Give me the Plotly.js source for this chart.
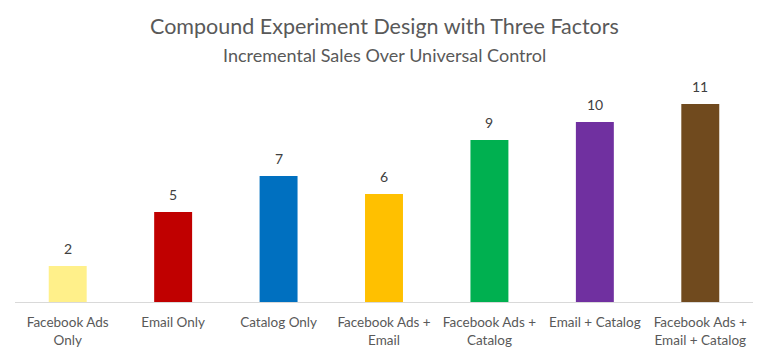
<!DOCTYPE html>
<html>
<head>
<meta charset="utf-8">
<script src="https://cdn.plot.ly/plotly-3.0.1.min.js"></script>
<style>html,body{margin:0;padding:0;background:#fff;}#chart{width:771px;height:358px;}</style>
</head>
<body>
<div id="chart"></div>
<script>
const categories = ["Facebook Ads<br>Only", "Email Only", "Catalog Only", "Facebook Ads +<br>Email", "Facebook Ads +<br>Catalog", "Email + Catalog", "Facebook Ads +<br>Email + Catalog"];
const values = [2, 5, 7, 6, 9, 10, 11];
const barColors = ["#FFF08A", "#C00000", "#0070C0", "#FFC000", "#00B050", "#7030A0", "#704A1E"];
const titleText = "Compound Experiment Design with Three Factors";
const subtitleText = "Incremental Sales Over Universal Control";

const FONT = "Lato, 'Open Sans', sans-serif";

const trace = {
  type: "bar",
  x: categories,
  y: values,
  marker: {color: barColors},
  width: 0.36,
  hoverinfo: "none"
};

const annotations = categories.map((c, i) => ({
  x: c, y: values[i], xref: "x", yref: "y",
  text: String(values[i]), showarrow: false,
  yanchor: "bottom", yshift: 7,
  font: {family: FONT, size: 14, color: "#404040"}
}));
annotations.push({
  xref: "paper", yref: "paper", x: 0.5, y: 1, xanchor: "center", yanchor: "middle",
  text: titleText, showarrow: false, yshift: 60,
  font: {family: FONT, size: 21.5, color: "#595959"}
});
annotations.push({
  xref: "paper", yref: "paper", x: 0.5, y: 1, xanchor: "center", yanchor: "middle",
  text: subtitleText, showarrow: false, yshift: 31,
  font: {family: FONT, size: 18, color: "#595959"}
});

const layout = {
  width: 771, height: 358,
  margin: {l: 15, r: 18, t: 86, b: 56},
  paper_bgcolor: "#fff", plot_bgcolor: "#fff",
  showlegend: false,
  xaxis: {
    showline: true, linecolor: "#D9D9D9", linewidth: 1,
    ticks: "", ticklabelstandoff: 8,
    tickfont: {family: FONT, size: 13.5, color: "#595959"},
    showgrid: false, zeroline: false, fixedrange: true
  },
  yaxis: {
    range: [0, 12], showticklabels: false, showgrid: false, zeroline: false,
    showline: false, ticks: "", fixedrange: true
  },
  annotations: annotations
};

Plotly.newPlot("chart", [trace], layout, {displayModeBar: false, staticPlot: true});
</script>
</body>
</html>
